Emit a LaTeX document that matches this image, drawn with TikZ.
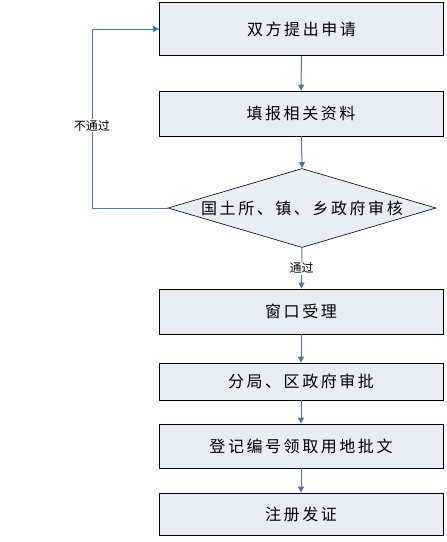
\documentclass[tikz,border=0pt]{standalone}
\usepackage{fontspec}
\newfontfamily\cjk{Noto Sans CJK SC}[LetterSpace=16]
\newfontfamily\cjksmall{Noto Sans CJK SC}
\usepackage{tikz}
\usetikzlibrary{arrows.meta,shapes.geometric}
\usepackage[dvipsnames,svgnames,x11names]{xcolor}
\definecolor{boxfill}{RGB}{231,236,245}
\definecolor{flowline}{RGB}{80,118,165}

\begin{document}
\begin{tikzpicture}[
    x=1pt, y=-1pt,
    >={Triangle[length=6pt,width=6pt]},
    stepbox/.style={
        draw=black,
        line width=0.8pt,
        fill=boxfill,
        minimum width=284pt,
        inner sep=0pt,
        font=\cjk\fontsize{16}{18}\selectfont
    },
    checkbox/.style={
        diamond,
        aspect=3.39,
        draw=black,
        line width=0.6pt,
        fill=boxfill,
        minimum width=268pt,
        minimum height=79pt,
        inner sep=0pt,
        font=\cjk\fontsize{16}{18}\selectfont
    },
    flow/.style={
        ->,
        line width=1pt,
        flowline
    },
    flowtag/.style={
        fill=white,
        text=black,
        inner sep=1pt,
        font=\cjksmall\fontsize{12}{14}\selectfont
    }
]

    \useasboundingbox (0,0) rectangle (447,542);

    % boxes
    \node[stepbox, minimum height=53pt] (apply)  at (301.5,29)  {双方提出申请};
    \node[stepbox, minimum height=45pt] (fill)   at (301,113.5) {填报相关资料};
    \node[checkbox]                     (check)  at (302,208)   {国土所、镇、乡政府审核};
    \node[stepbox, minimum height=45pt] (window) at (301,311.5) {窗口受理};
    \node[stepbox, minimum height=37pt] (approve) at (301,381.5) {分局、区政府审批};
    \node[stepbox, minimum height=44pt] (record) at (301,446)   {登记编号领取用地批文};
    \node[stepbox, minimum height=42pt] (issue)  at (301,514)   {注册发证};

    \coordinate (back) at (92,208);

    % arrows
    \draw[flow] (apply) -- (fill);
    \draw[flow] (fill) -- (check.north);
    \draw[flow] (check.south) -- (window)
        node[midway, flowtag] {通过};
    \draw[flow] (window) -- (approve);
    \draw[flow] (approve) -- (record);
    \draw[flow] (record) -- (issue);

    \draw[
        flow
    ] (check.west) -- (back) |- (apply.west)
    node[pos=0.23, flowtag] {不通过};

\end{tikzpicture}
\end{document}
